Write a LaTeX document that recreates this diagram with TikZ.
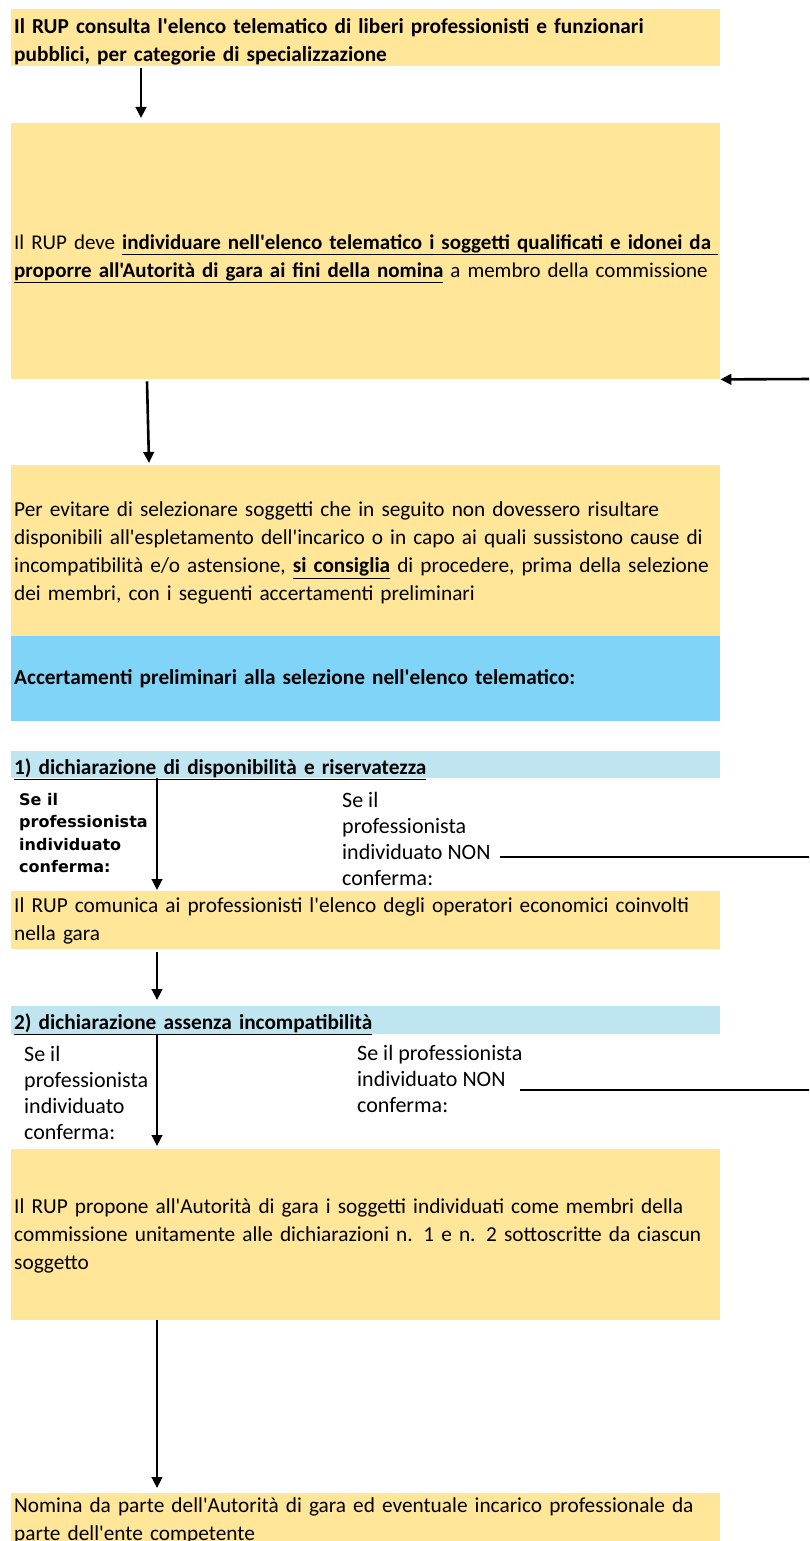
\documentclass[tikz,border=0pt]{standalone}
\usepackage{fontspec}
\setmainfont{Carlito}[Ligatures=TeXOff]
\newfontfamily\labelfont{DejaVu Sans}[Ligatures=TeXOff]
\usetikzlibrary{positioning,arrows.meta}
\definecolor{gold}{HTML}{FFE699}
\definecolor{skyblue}{HTML}{80D4F8}
\definecolor{paleblue}{HTML}{BEE5F0}
\tikzset{
  stepbox/.style={rectangle, fill=gold, anchor=north west, minimum width=709pt,
    text width=703pt, inner xsep=3pt, inner ysep=-20pt, align=left,
    font=\fontsize{21.3}{28}\selectfont,
    execute at begin node={\rule{0pt}{#1}}, execute at end node=\strut},
  stepbox/.default=24pt,
  headbox/.style={stepbox=20.4pt, fill=skyblue, font=\fontsize{21.3}{28}\selectfont\bfseries},
  declbox/.style={stepbox=#1, fill=paleblue, font=\fontsize{21.3}{28}\selectfont\bfseries},
  choice/.style={anchor=north west, inner sep=0pt, align=left,
    font=\fontsize{22}{26}\selectfont},
  arr/.style={line width=2.6pt, -{Triangle[length=11pt,width=10.5pt]}}
}
\begin{document}
\begin{tikzpicture}[x=1pt,y=-1pt]
\useasboundingbox (0,0) rectangle (809,1541);
\clip (0,0) rectangle (809,1541);
% boxes
\node[stepbox=28.4pt, minimum height=57pt, font=\fontsize{21.3}{28}\selectfont\bfseries] (consulta) at (11,9)
  {Il RUP consulta l'elenco telematico di liberi professionisti e funzionari\\
   pubblici, per categorie di specializzazione};
\node[stepbox=33.4pt, minimum height=256pt, font=\fontsize{21}{28}\selectfont] (individua) at (11,123)
  {Il RUP deve \textbf{\underline{individuare nell'elenco telematico i soggetti qualificati e idonei da }}\\
   \textbf{\underline{proporre all'Autorità di gara ai fini della nomina}} a membro della commissione};
\node[stepbox=24.4pt, minimum height=171pt] (consiglio) at (11,465)
  {Per evitare di selezionare soggetti che in seguito non dovessero risultare\\
   disponibili all'espletamento dell'incarico o in capo ai quali sussistono cause di\\
   incompatibilità e/o astensione, \textbf{\underline{si consiglia}} di procedere, prima  della selezione\\
   dei membri, con i seguenti accertamenti preliminari};
\node[headbox, minimum height=85pt] (accert) at (11,636)
  {Accertamenti preliminari alla selezione nell'elenco telematico:};
\node[declbox=28.4pt, minimum height=27pt] (dispon) at (11,751)
  {\underline{1) dichiarazione di disponibilità e riservatezza}};
\node[stepbox=21.4pt, minimum height=58pt] (comunica) at (11,891)
  {Il RUP comunica ai professionisti  l'elenco degli operatori economici coinvolti\\
   nella gara};
\node[declbox=27.4pt, minimum height=28pt] (incomp) at (11,1006)
  {\underline{2) dichiarazione assenza incompatibilità}};
\node[stepbox=22.4pt, minimum height=171pt] (propone) at (11,1149)
  {Il RUP  propone all'Autorità di gara i soggetti individuati come membri della\\
   commissione unitamente alle dichiarazioni n. 1 e n. 2 sottoscritte da ciascun\\
   soggetto};
\node[stepbox=18pt, minimum height=56pt] (nomina) at (11,1493)
  {Nomina da parte dell'Autorità di gara ed eventuale incarico professionale da\\
   parte dell'ente competente};
% choices
\node[choice, font=\labelfont\bfseries\fontsize{16}{22.5}\selectfont] (si1) at (19,793)
  {Se il\\ professionista\\ individuato\\ conferma:};
\node[choice] (no1) at (342,792) {Se il\\ professionista\\ individuato NON\\ conferma:};
\node[choice] (si2) at (24,1046) {Se il\\ professionista\\ individuato\\ conferma:};
\node[choice] (no2) at (357,1045) {Se il professionista\\ individuato NON\\ conferma:};
\coordinate (start1) at (500,857);
\coordinate (exit1) at (822,857);
\coordinate (start2) at (520,1090);
\coordinate (exit2) at (822,1090);
\coordinate (back) at (812,379);
% connectors
\draw[arr] ([xshift=130pt,yshift=-2pt]consulta.south west) -- ([xshift=130pt,yshift=5pt]individua.north west);
\draw[arr] (back) -- (individua.south east);
\draw[arr] ([xshift=136pt,yshift=-2pt]individua.south west) -- ([xshift=138pt,yshift=2pt]consiglio.north west);
\draw[arr] ([xshift=146pt]dispon.south west) -- ([xshift=146pt,yshift=1pt]comunica.north west);
\draw[arr] ([xshift=146pt,yshift=-3pt]comunica.south west) -- ([xshift=146pt,yshift=6pt]incomp.north west);
\draw[arr] ([xshift=146pt]incomp.south west) -- ([xshift=146pt,yshift=3pt]propone.north west);
\draw[arr] ([xshift=146pt]propone.south west) -- ([xshift=146pt,yshift=5pt]nomina.north west);
\draw[arr] (start1) -- (exit1);
\draw[arr] (start2) -- (exit2);
\end{tikzpicture}
\end{document}
